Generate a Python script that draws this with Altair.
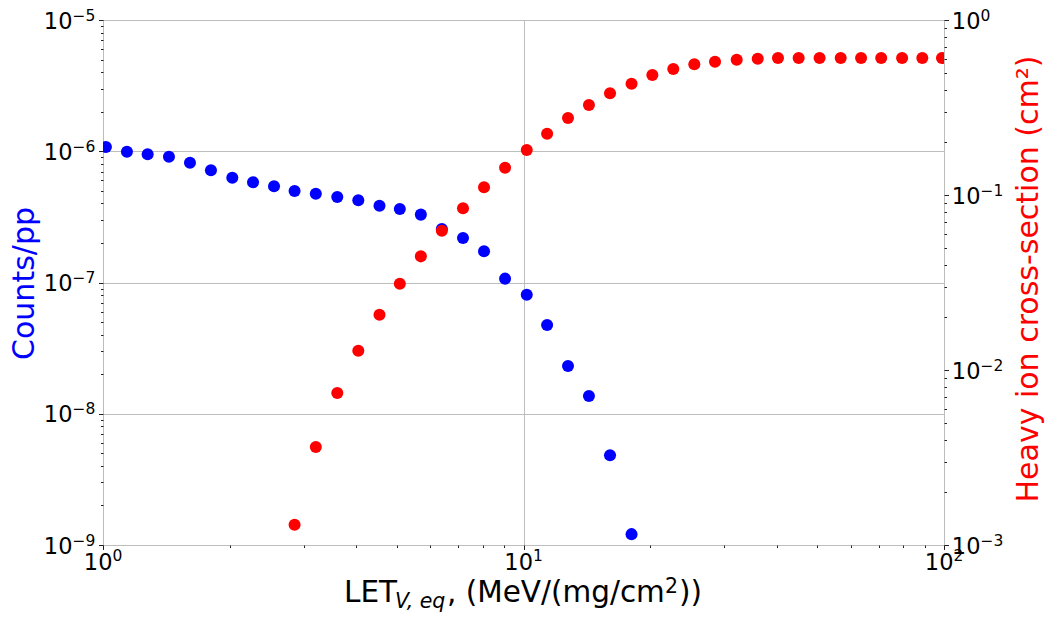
import altair as alt
import pandas as pd

FONT = "DejaVu Sans"

# LET values of the two measured series (MeV/(mg/cm^2))
let_counts = [1.016, 1.140, 1.277, 1.435, 1.610, 1.806, 2.030, 2.274, 2.551,
              2.855, 3.207, 3.607, 4.047, 4.545, 5.080, 5.700, 6.395, 7.180,
              8.056, 9.040, 10.18, 11.38, 12.76, 14.31, 16.06, 18.07]
counts_pp = [1.077e-6, 9.92e-7, 9.48e-7, 9.09e-7, 8.18e-7, 7.16e-7, 6.29e-7,
             5.80e-7, 5.41e-7, 4.98e-7, 4.75e-7, 4.48e-7, 4.23e-7, 3.85e-7,
             3.63e-7, 3.29e-7, 2.56e-7, 2.18e-7, 1.73e-7, 1.07e-7, 8.07e-8,
             4.74e-8, 2.31e-8, 1.365e-8, 4.82e-9, 1.21e-9]

let_xsec = [2.855, 3.207, 3.607, 4.047, 4.545, 5.080, 5.700, 6.395, 7.180,
            8.056, 9.040, 10.18, 11.38, 12.76, 14.31, 16.06, 18.07, 20.25,
            22.71, 25.48, 28.54, 32.14, 36.06, 40.29, 45.12, 50.60, 56.80,
            63.50, 70.90, 79.50, 88.80, 98.90]
xsec_cm2 = [1.306e-3, 3.63e-3, 7.39e-3, 1.289e-2, 2.07e-2, 3.11e-2, 4.46e-2,
            6.25e-2, 8.39e-2, 0.1107, 0.1432, 0.1807, 0.2240, 0.2754, 0.3268,
            0.3813, 0.4325, 0.4850, 0.5248, 0.5580, 0.5777, 0.5931, 0.6010,
            0.6065, 0.6065, 0.6065, 0.6065, 0.6065, 0.6065, 0.6065, 0.6065,
            0.6065]

# decade tick labels: position and exponent text
x_major = [1, 10, 100]
x_exp = ["0", "1", "2"]
left_major = [1e-9, 1e-8, 1e-7, 1e-6, 1e-5]
left_exp = ["\u22129", "\u22128", "\u22127", "\u22126", "\u22125"]
right_major = [1e-3, 1e-2, 1e-1, 1.0]
right_exp = ["\u22123", "\u22122", "\u22121", "0"]


def log_ticks(lo_exp, hi_exp):
    vals = [m * 10.0 ** e for e in range(lo_exp, hi_exp) for m in range(1, 10)]
    return vals + [10.0 ** hi_exp]


MAJOR = "abs(log(datum.value)/LN10 - round(log(datum.value)/LN10)) < 0.001"


def log_axis(values, orient, grid):
    kw = dict(
        values=values, orient=orient, labels=False, title=None, domain=False,
        ticks=True, tickColor="#222222", tickWidth=1,
        tickSize={"condition": {"test": MAJOR, "value": 4.5}, "value": 2.5},
        grid=grid,
    )
    if grid:
        kw.update(gridColor="#bdbdbd", gridWidth=1,
                  gridOpacity={"condition": {"test": MAJOR, "value": 1}, "value": 0})
    return alt.Axis(**kw)


x_scale = alt.Scale(type="log", domain=[1, 100], nice=False)
left_scale = alt.Scale(type="log", domain=[1e-9, 1e-5], nice=False)
right_scale = alt.Scale(type="log", domain=[1e-3, 1], nice=False)

x_enc = alt.X("let:Q", scale=x_scale, axis=log_axis(log_ticks(0, 2), "bottom", True))

counts_df = pd.DataFrame({"let": let_counts, "v": counts_pp})
xsec_df = pd.DataFrame({"let": let_xsec, "v": xsec_cm2})

blue = alt.Chart(counts_df).mark_circle(
    color="#0000ff", opacity=1, size=145, clip=True
).encode(
    x=x_enc,
    y=alt.Y("v:Q", scale=left_scale, axis=log_axis(log_ticks(-9, -5), "left", True)),
)

red = alt.Chart(xsec_df).mark_circle(
    color="#ff0000", opacity=1, size=145, clip=True
).encode(
    x=x_enc,
    y=alt.Y("v:Q", scale=right_scale, axis=log_axis(log_ticks(-3, 0), "right", False)),
)

TICK_FS = 22.5
EXP_FS = 15.5

# y-axis decade labels, "10" plus a raised exponent
left_df = pd.DataFrame({"v": left_major, "e": left_exp})
left_base = alt.Chart(left_df).mark_text(
    text="10", align="right", baseline="alphabetic", font=FONT,
    fontSize=TICK_FS, color="black", dy=8.6
).encode(x=alt.value(-30.5), y=alt.Y("v:Q", scale=left_scale, axis=None))
left_sup = alt.Chart(left_df).mark_text(
    align="left", baseline="alphabetic", font=FONT,
    fontSize=EXP_FS, color="black", dy=0.5
).encode(x=alt.value(-30.5), y=alt.Y("v:Q", scale=left_scale, axis=None), text="e:N")

right_df = pd.DataFrame({"v": right_major, "e": right_exp})
right_base = alt.Chart(right_df).mark_text(
    text="10", align="right", baseline="alphabetic", font=FONT,
    fontSize=TICK_FS, color="black", dy=8.6
).encode(x=alt.value(877.5), y=alt.Y("v:Q", scale=right_scale, axis=None))
right_sup = alt.Chart(right_df).mark_text(
    align="left", baseline="alphabetic", font=FONT,
    fontSize=EXP_FS, color="black", dy=0.5
).encode(x=alt.value(877.5), y=alt.Y("v:Q", scale=right_scale, axis=None), text="e:N")

# x-axis decade labels
xl_df = pd.DataFrame({"let": x_major, "e": x_exp})
x_base = alt.Chart(xl_df).mark_text(
    text="10", align="right", baseline="alphabetic", font=FONT,
    fontSize=TICK_FS, color="black", dx=9.5
).encode(x=x_enc, y=alt.value(550))
x_sup = alt.Chart(xl_df).mark_text(
    align="left", baseline="alphabetic", font=FONT,
    fontSize=EXP_FS, color="black", dx=9.5
).encode(x=x_enc, y=alt.value(541), text="e:N")

one = pd.DataFrame({"k": [0]})


def label(text, x, y, size, color="black", **kw):
    return alt.Chart(one).mark_text(
        text=text, font=FONT, fontSize=size, color=color,
        baseline="alphabetic", **kw
    ).encode(x=alt.value(x), y=alt.value(y))


YTITLE_FS = 30
XTITLE_FS = 29.5
SUB_FS = 20.5

titles = [
    label("Counts/pp", -69.5, 263.5, YTITLE_FS, "#0000ff", angle=270, align="center"),
    label("Heavy ion cross-section (cm\u00b2)", 934.5, 259, YTITLE_FS, "#ff0000",
          angle=270, align="center"),
    label("LET", 241, 581.7, XTITLE_FS, align="left"),
    label("V, eq", 292, 587.7, SUB_FS, align="left", fontStyle="italic"),
    label(", (MeV/(mg/cm", 344, 581.7, XTITLE_FS, align="left"),
    label("2", 562, 573, SUB_FS, align="left"),
    label("))", 576, 581.7, XTITLE_FS, align="left"),
]

chart = alt.layer(
    blue, red, left_base, left_sup, right_base, right_sup, x_base, x_sup, *titles
).resolve_scale(
    y="independent"
).properties(
    width=841, height=525,
    padding={"left": 103, "top": 20, "right": 103, "bottom": 72},
    autosize=alt.AutoSizeParams(type="none"),
    background="white",
).configure_view(
    stroke="#333333", strokeWidth=1
)

chart.save("out.html", embed_options={"renderer": "svg", "actions": False})
